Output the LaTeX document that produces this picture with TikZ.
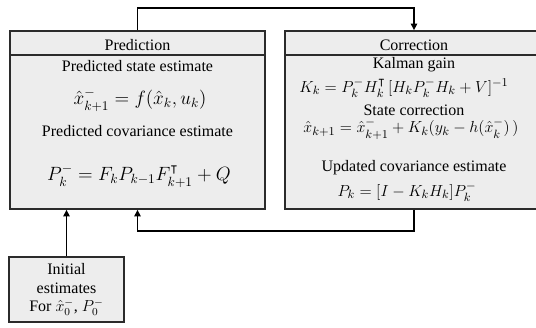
\documentclass[tikz,border=0pt]{standalone}
\usepackage{amsmath}
\usepackage{amssymb}
\usepackage{fontspec}
\setmainfont{Liberation Serif}
\usepackage{tikz}
\usetikzlibrary{arrows.meta, positioning, calc}
\definecolor{panelgray}{HTML}{EDEDED}
\definecolor{edgegray}{HTML}{2B2B2B}

\begin{document}
\begin{tikzpicture}[
  x=0.75pt, y=-0.75pt,
  panel/.style={draw=edgegray, fill=panelgray, line width=0.9pt, inner sep=0pt},
  lbl/.style={font=\fontsize{12}{13}\selectfont, inner sep=0pt},
  eq/.style={font=\fontsize{14}{16}\selectfont, inner sep=0pt},
  eqs/.style={font=\fontsize{13}{15}\selectfont, inner sep=0pt},
  arr/.style={-{Triangle[length=5pt, width=4.5pt]}, line width=1.4pt}
]
  \useasboundingbox (0,0) rectangle (536,328);
  \clip (0,0) rectangle (536,328);

  % Prediction
  \node[panel, minimum width=255*0.75pt, minimum height=178*0.75pt] (pred) at (137.5,120) {};
  \draw[edgegray, line width=0.9pt] (pred.west |- 0,55) -- (pred.east |- 0,55);
  \node[lbl] (predtitle) at (137.5,45) {Prediction};
  \node[lbl] (predstate) at (137.5,66) {Predicted state estimate};
  \node[eq] (predx) at (140,100) {$\hat{x}_{k+1}^{-} = f(\hat{x}_k, u_k)$};
  \node[lbl] (predcov) at (137.5,131) {Predicted covariance estimate};
  \node[eq] (predp) at (139,176) {$P_k^{-} = F_k P_{k-1} F_{k+1}^{\intercal} + Q$};

  % Correction
  \node[panel, minimum width=258*0.75pt, minimum height=178*0.75pt] (corr) at (414,120) {};
  \draw[edgegray, line width=0.9pt] (corr.west |- 0,55) -- (corr.east |- 0,55);
  \node[lbl] (corrtitle) at (414,45) {Correction};
  \node[lbl] (corrgain) at (414,65) {Kalman gain};
  \node[eqs] (corrk) at (404,88) {$K_k = P_k^{-} H_k^{\intercal}\,[H_k P_k^{-} H_k + V]^{-1}$};
  \node[lbl] (corrstate) at (414,110) {State correction};
  \node[eqs] (corrx) at (411,129) {$\hat{x}_{k+1} = \hat{x}_{k+1}^{-} + K_k(y_k - h(\hat{x}_k^{-})\,)$};
  \node[lbl] (corrcov) at (414,168) {Updated covariance estimate};
  \node[eqs] (corrp) at (407,192) {$P_k = [I - K_k H_k] P_k^{-}$};

  % Initial estimates
  \node[panel, minimum width=115*0.75pt, minimum height=65*0.75pt,
        lbl, align=center, font=\fontsize{12}{14}\selectfont] (init) at (66.5,289.5)
    {Initial\\estimates\\For $\hat{x}_0^{-}$, $P_0^{-}$};

  % loop connectors
  \coordinate (topbend) at (414,8);
  \coordinate (lowbend) at (414,231);
  \draw[arr] (pred.north) |- (topbend) -- (corr.north);
  \draw[arr] (corr.south) -- (lowbend) -| (pred.south);
  \draw[arr] (init.north) -- (init.north |- pred.south);
\end{tikzpicture}
\end{document}
